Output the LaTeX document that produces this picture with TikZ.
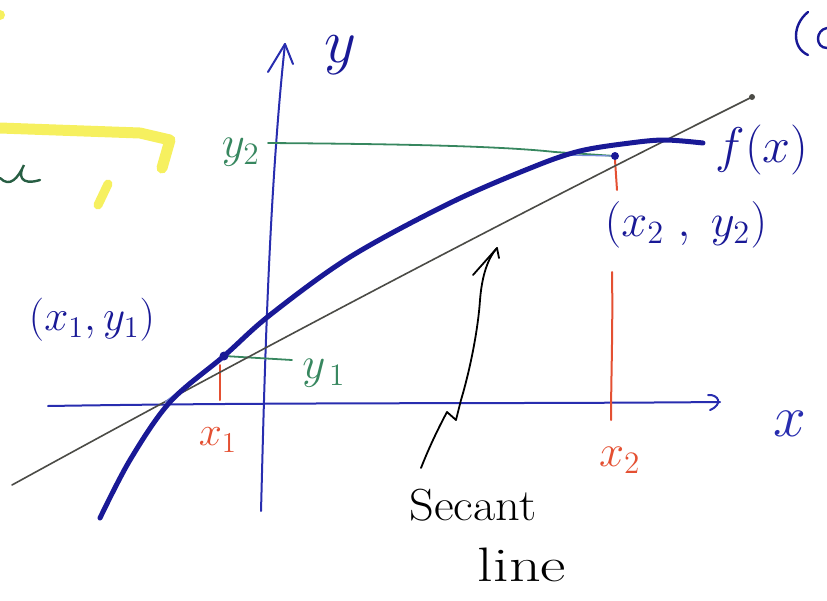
\documentclass[tikz,border=0pt]{standalone}
\usepackage{fontspec}
\usepackage{graphicx}
\begin{document}
\begin{tikzpicture}[x=1pt,y=-1pt,
  axis/.style={draw=axblue,line width=2pt,line cap=round,line join=round},
  fcurve/.style={draw=fblue,line width=5pt,line cap=round},
  secline/.style={draw=secgray,line width=1.6pt,line cap=round},
  redline/.style={draw=redc,line width=2pt,line cap=round},
  greenline/.style={draw=greenc,line width=1.8pt,line cap=round},
  hl/.style={draw=yellowc,line width=11pt,line cap=round,line join=round},
  lbl/.style={inner sep=0pt,font=\LARGE},
  dotc/.style={circle,fill=fblue,inner sep=0pt,minimum size=9pt}]
\definecolor{axblue}{RGB}{40,45,175}
\definecolor{fblue}{RGB}{25,25,150}
\definecolor{secgray}{RGB}{75,75,70}
\definecolor{redc}{RGB}{228,80,50}
\definecolor{greenc}{RGB}{55,135,95}
\definecolor{yellowc}{RGB}{246,240,95}
\definecolor{lblue}{RGB}{120,140,220}
\useasboundingbox (0,0) rectangle (827,600);
% highlighter
\draw[hl] (0,128) -- (140,133) -- (170,140) -- (162,168);
\draw[hl,line width=9pt] (108,184) -- (98,205);
\fill[yellowc] (0,15) circle (5);
% green fragment at left
\draw[draw=greenc!70!black,line width=2.4pt,line cap=round] (0,178) .. controls (10,188) and (18,178) .. (24,165) .. controls (18,175) and (20,186) .. (40,180);
% top-right blue bracket fragment
\draw[draw=fblue,line width=2.4pt,line cap=round] (808,12) .. controls (792,25) and (792,48) .. (808,55);
\draw[draw=fblue,line width=2.4pt,line cap=round] (827,28) .. controls (815,30) and (815,48) .. (827,48);
% coordinates
\coordinate (ybot) at (261,511);
\coordinate (ytop) at (285,44);
\coordinate (xl) at (48,406);
\coordinate (xr) at (720,402);
\coordinate (P1) at (224,356);
\coordinate (P2) at (615,156);
% axes
\draw[axis] (ybot) .. controls (264,400) and (268,200) .. (ytop);
\draw[axis] (268,72) -- (ytop) -- (293,64);
\draw[axis] (xl) .. controls (300,402) and (500,404) .. (xr);
\draw[axis] (708,395) .. controls (718,394) and (724,404) .. (710,410);
% green helper lines
\draw[greenline] (268,143) .. controls (400,144) and (500,146) .. (555,152) -- (P2);
\draw[greenline] (P1) -- (292,360);
% red helper lines
\draw[redline] (220,365) -- (220,400);
\draw[redline] (612,272) .. controls (613,330) and (611,380) .. (611,420);
\draw[redline] (615,160) -- (617,190);
% secant
\coordinate (sl) at (12,485);
\coordinate (sr) at (752,97);
\draw[secline] (sl) .. controls (258,350) and (505,220) .. (sr);
\fill[secgray] (sr) circle (3);
% thin light chords
\draw[lblue,line width=1.2pt] (165,402) -- (P1);
\draw[lblue,line width=1.2pt] (560,155) -- (P2);
% f(x)
\draw[fcurve] plot[smooth,tension=0.55] coordinates {(100,518) (130,460) (170,402) (P1) (270,315) (350,257) (450,203) (533,167) (580,151) (630,143) (665,140) (703,143)};
\node[dotc] (d1) at (P1) {};
\node[dotc,minimum size=8pt] (d2) at (P2) {};
% labels
\node[lbl,text=fblue] (ly) at (340,55) {\scalebox{3.6}{$y$}};
\node[lbl,text=axblue] (lx) at (790,424) {\scalebox{3.4}{$x$}};
\node[lbl,text=greenc] (ly2) at (241,152) {\scalebox{2.6}{$y_2$}};
\node[lbl,text=greenc] (ly1) at (324,373) {\scalebox{2.6}{$y_{\,1}$}};
\node[lbl,text=redc] (lx1) at (218,440) {\scalebox{2.4}{$x_1$}};
\node[lbl,text=redc] (lx2) at (620,460) {\scalebox{2.6}{$x_2$}};
\node[lbl,text=fblue] (lp1) at (92,320) {\scalebox{2.5}{$(x_1,y_1)$}};
\node[lbl,text=fblue] (lp2) at (686,225) {\scalebox{2.7}{$(x_2\;,\;y_2)$}};
\node[lbl,text=fblue] (lf) at (762,150) {\scalebox{2.9}{$f(x)$}};
\node[lbl,text=black] (lsec) at (473,505) {\scalebox{2.8}[2.6]{Secant}};
\node[lbl,text=black] (lline) at (522,565) {\scalebox{3.6}[2.8]{line}};
% arrow to secant line
\coordinate (atip) at (497,248);
\draw[draw=black,line width=1.8pt,line cap=round,line join=round]
  (421,468) .. controls (430,445) and (440,425) .. (447,412) -- (456,420) -- (461,400)
  .. controls (470,370) and (478,330) .. (480,300) .. controls (482,275) and (488,258) .. (atip);
\draw[draw=black,line width=1.8pt,line cap=round,line join=round] (473,275) -- (atip) -- (499,258);
\end{tikzpicture}
\end{document}
